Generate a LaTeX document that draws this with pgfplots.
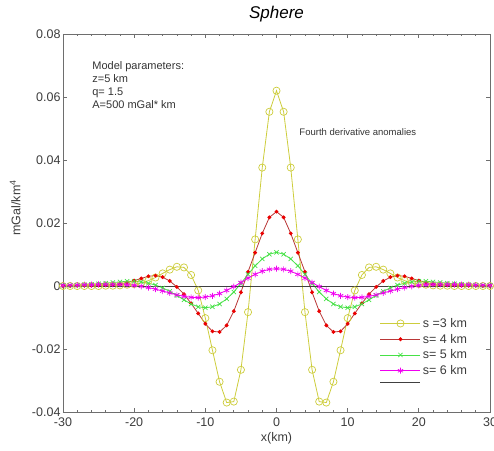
\documentclass[border=0pt]{standalone}
\usepackage{pgfplots}
\pgfplotsset{compat=1.18}
\usepackage{pgfplotstable}
\usepackage{fontspec}
\setmainfont{Liberation Sans}
\definecolor{cyel}{RGB}{205,205,60}
\definecolor{credl}{RGB}{185,55,55}
\definecolor{credm}{RGB}{235,0,0}
\definecolor{cgrn}{RGB}{70,225,70}
\definecolor{cmag}{RGB}{240,0,240}
\definecolor{caxis}{RGB}{110,110,110}
\definecolor{ctext}{RGB}{60,60,60}
\pgfplotstableread{
x s3 s4 s5 s6
-30 0 0 0.0002 0.0002
-29 0 0 0.0002 0.0003
-28 0 0.0001 0.0003 0.0003
-27 0 0.0001 0.0004 0.0004
-26 0 0.0001 0.0005 0.0004
-25 0 0.0002 0.0007 0.0005
-24 0.0001 0.0003 0.0009 0.0005
-23 0.0001 0.0004 0.0011 0.0005
-22 0.0002 0.0007 0.0013 0.0005
-21 0.0004 0.0011 0.0015 0.0004
-20 0.0006 0.0017 0.0015 0.0002
-19 0.0010 0.0024 0.0013 -0.0001
-18 0.0017 0.0031 0.0009 -0.0005
-17 0.0027 0.0033 0.0003 -0.0010
-16 0.0040 0.0028 -0.0006 -0.0016
-15 0.0052 0.0016 -0.0017 -0.0022
-14 0.0061 -0.0003 -0.0030 -0.0028
-13 0.0059 -0.0026 -0.0044 -0.0033
-12 0.0035 -0.0055 -0.0057 -0.0036
-11 -0.0014 -0.0087 -0.0066 -0.0037
-10 -0.0102 -0.0120 -0.0069 -0.0035
-9 -0.0204 -0.0144 -0.0066 -0.0031
-8 -0.0304 -0.0146 -0.0057 -0.0024
-7 -0.0370 -0.0125 -0.0041 -0.0014
-6 -0.0367 -0.0080 -0.0019 -0.0002
-5 -0.0266 -0.0020 0.0008 0.0011
-4 -0.0083 0.0045 0.0037 0.0025
-3 0.0148 0.0106 0.0064 0.0037
-2 0.0376 0.0167 0.0086 0.0047
-1 0.0553 0.0218 0.0101 0.0053
0 0.0620 0.0236 0.0107 0.0055
1 0.0553 0.0218 0.0101 0.0053
2 0.0376 0.0167 0.0086 0.0047
3 0.0148 0.0106 0.0064 0.0037
4 -0.0083 0.0045 0.0037 0.0025
5 -0.0266 -0.0020 0.0008 0.0011
6 -0.0367 -0.0080 -0.0019 -0.0002
7 -0.0370 -0.0125 -0.0041 -0.0014
8 -0.0304 -0.0146 -0.0057 -0.0024
9 -0.0204 -0.0144 -0.0066 -0.0031
10 -0.0102 -0.0120 -0.0069 -0.0035
11 -0.0014 -0.0087 -0.0066 -0.0037
12 0.0035 -0.0055 -0.0057 -0.0036
13 0.0059 -0.0026 -0.0044 -0.0033
14 0.0061 -0.0003 -0.0030 -0.0028
15 0.0052 0.0016 -0.0017 -0.0022
16 0.0040 0.0028 -0.0006 -0.0016
17 0.0027 0.0033 0.0003 -0.0010
18 0.0017 0.0031 0.0009 -0.0005
19 0.0010 0.0024 0.0013 -0.0001
20 0.0006 0.0017 0.0015 0.0002
21 0.0004 0.0011 0.0015 0.0004
22 0.0002 0.0007 0.0013 0.0005
23 0.0001 0.0004 0.0011 0.0005
24 0.0001 0.0003 0.0009 0.0005
25 0 0.0002 0.0007 0.0005
26 0 0.0001 0.0005 0.0004
27 0 0.0001 0.0004 0.0004
28 0 0.0001 0.0003 0.0003
29 0 0 0.0002 0.0003
30 0 0 0.0002 0.0002
}\data
\begin{document}
\begin{tikzpicture}
\begin{axis}[
  name=ax,
  scale only axis,
  width=427pt, height=378pt,
  xmin=-30, xmax=30, ymin=-0.04, ymax=0.08,
  xtick={-30,-20,-10,0,10,20,30},
  xticklabels={-30,-20,-10,0,10,20,30},
  ytick={-0.04,-0.02,0,0.02,0.04,0.06,0.08},
  yticklabels={-0.04,-0.02,0,0.02,0.04,0.06,0.08},
  scaled y ticks=false,
  minor x tick num=4,
  tick align=inside,
  axis line style={caxis, line width=0.9pt},
  every tick/.style={caxis, line width=0.7pt},
  major tick length=4pt, minor tick length=2.5pt,
  tick label style={font=\fontsize{12.5}{14}\selectfont, text=ctext},
  yticklabel style={xshift=1pt},
  xticklabel style={yshift=-2.5pt},
  title={\itshape Sphere},
  title style={font=\fontsize{17}{20}\selectfont, at={(axis description cs:0.5,1.038)}, anchor=center},
  xlabel={x(km)},
  xlabel style={font=\fontsize{12.5}{14}\selectfont, text=ctext, at={(axis description cs:0.5,-0.069)}, anchor=center},
  ylabel={mGal/km\textsuperscript{4}},
  ylabel style={font=\fontsize{12.5}{14}\selectfont, text=ctext, at={(axis description cs:-0.112,0.54)}, anchor=center},
  legend style={draw=none, fill=none, at={(axis description cs:0.742,0.254)}, anchor=north west,
    font=\fontsize{12.5}{14}\selectfont, text=ctext, row sep=1.2pt, inner sep=0pt},
  legend cell align=left,
  legend image code/.code={\draw[mark repeat=2,mark phase=2] plot coordinates {(0pt,0pt) (20pt,0pt) (40pt,0pt)};},
  clip=false,
]
\addplot[cyel, line width=0.8pt, mark=o, mark size=3.6pt, mark options={line width=0.7pt}] table[x=x,y=s3] {\data};
\addlegendentry{s =3 km}
\addplot[credl, line width=0.8pt, mark=*, mark size=1.5pt, mark options={credm, draw=credm}] table[x=x,y=s4] {\data};
\addlegendentry{s= 4 km}
\addplot[cgrn, line width=0.8pt, mark=x, mark size=3pt, mark options={line width=0.7pt}] table[x=x,y=s5] {\data};
\addlegendentry{s= 5 km}
\addplot[cmag, line width=0.8pt, mark=asterisk, mark size=3pt, mark options={line width=0.7pt}] table[x=x,y=s6] {\data};
\addlegendentry{s= 6 km}
\addplot[black!75, line width=0.9pt] coordinates {(-30,0) (30,0)};
\addlegendentry{}
\node[anchor=north west, align=left, font=\fontsize{11}{13}\selectfont, text=black!80, inner sep=0pt]
  at (axis cs:-25.9,0.0713) {Model parameters:\\z=5 km\\q= 1.5\\A=500 mGal* km};
\node[anchor=west, font=\fontsize{9.5}{11}\selectfont, text=black!80, inner sep=0pt]
  at (axis cs:3.2,0.0489) {Fourth derivative anomalies};
\end{axis}
\pgfresetboundingbox
\path[use as bounding box] ([xshift=-63pt,yshift=-38pt]ax.south west) rectangle ([xshift=4pt,yshift=34pt]ax.north east);
\end{tikzpicture}
\end{document}
